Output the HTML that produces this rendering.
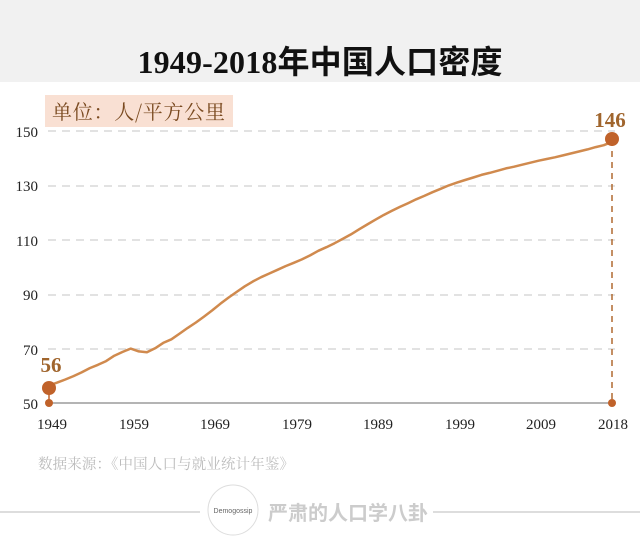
<!DOCTYPE html>
<html><head><meta charset="utf-8"><style>
body{margin:0;width:640px;height:545px;background:#fff;overflow:hidden;font-family:"Liberation Serif","Noto Serif CJK SC",serif}
</style></head><body>
<svg id="s" width="640" height="545" xmlns="http://www.w3.org/2000/svg">
<rect x="0" y="0" width="640" height="82" fill="#f1f1f1"/>
<text x="320" y="73" text-anchor="middle" font-size="32" font-weight="bold" font-family="Liberation Serif,Noto Sans CJK SC,sans-serif" fill="#111" textLength="365">1949-2018<tspan font-family="Noto Sans CJK SC,sans-serif">年中国人口密度</tspan></text>
<rect x="45" y="95" width="188" height="32" fill="#f9e0d3"/>
<text x="52" y="119" font-size="20" fill="#7a4a20" font-family="Noto Serif CJK SC,serif" textLength="173">单位：人/平方公里</text>
<g stroke="#d9d9d9" stroke-width="1.5" stroke-dasharray="8,6">
<line x1="48" x2="615" y1="131" y2="131"/><line x1="48" x2="615" y1="186" y2="186"/><line x1="48" x2="615" y1="240" y2="240"/><line x1="48" x2="615" y1="295" y2="295"/><line x1="48" x2="615" y1="349" y2="349"/>
</g>
<line x1="49" x2="613" y1="403" y2="403" stroke="#888" stroke-width="1.2"/>
<g font-size="15" fill="#222" text-anchor="end">
<text x="38" y="137">150</text><text x="38" y="191">130</text><text x="38" y="246">110</text><text x="38" y="300">90</text><text x="38" y="355">70</text><text x="38" y="409">50</text>
</g>
<g font-size="15" fill="#222" text-anchor="middle">
<text x="52" y="429">1949</text><text x="134" y="429">1959</text><text x="215" y="429">1969</text><text x="297" y="429">1979</text><text x="378" y="429">1989</text><text x="460" y="429">1999</text><text x="541" y="429">2009</text><text x="613" y="429">2018</text>
</g>
<polyline id="pl" fill="none" stroke="#d08a4e" stroke-width="2.5" stroke-linejoin="round"/>
<line x1="612" x2="612" y1="140" y2="403" stroke="#b06a30" stroke-width="1.5" stroke-dasharray="6,5"/>
<line x1="49" x2="49" y1="389" y2="403" stroke="#c0622a" stroke-width="1.5"/>
<circle cx="49" cy="388" r="7" fill="#c0622a"/>
<circle cx="49" cy="403" r="4" fill="#c0622a"/>
<circle cx="612" cy="139" r="7" fill="#c0622a"/>
<circle cx="612" cy="403" r="4" fill="#c0622a"/>
<text x="51" y="372" font-size="21" font-weight="bold" fill="#a0652d" text-anchor="middle">56</text>
<text x="610" y="127" font-size="21" font-weight="bold" fill="#a0652d" text-anchor="middle">146</text>
<text x="38" y="469" font-size="14.5" fill="#bbb" font-family="Noto Serif CJK SC,serif" textLength="256">数据来源：《中国人口与就业统计年鉴》</text>
<line x1="0" x2="200" y1="512" y2="512" stroke="#ddd" stroke-width="2"/>
<line x1="433" x2="640" y1="512" y2="512" stroke="#ddd" stroke-width="2"/>
<circle cx="233" cy="510" r="25" fill="#fff" stroke="#ddd"/>
<text x="233" y="513" font-size="7" fill="#666" text-anchor="middle" font-family="Liberation Sans,sans-serif">Demogossip</text>
<text x="268" y="520" font-size="20" fill="#ccc" font-family="Noto Sans CJK SC,sans-serif" font-weight="bold">严肃的人口学八卦</text>
</svg>
<script>
var p=[541.67,552,563,575,588,603,615,628,647,660,672,662,659,673,692,705,725,745,764,785,807,830,852,872,892,909,924,937,950,963,975,987,1001,1017,1030,1044,1059,1075,1093,1110,1127,1143,1158,1172,1185,1199,1211,1224,1236,1248,1258,1267,1276,1285,1292,1300,1308,1314,1321,1328,1335,1341,1347,1354,1361,1368,1375,1383,1390,1402];
var pts=p.map(function(v,i){var d=v/9.6;var x=49+i*563/69;var y=403-(d-50)*2.72;return x.toFixed(1)+","+y.toFixed(1);});
document.getElementById("pl").setAttribute("points",pts.join(" "));
</script>
</body></html>
